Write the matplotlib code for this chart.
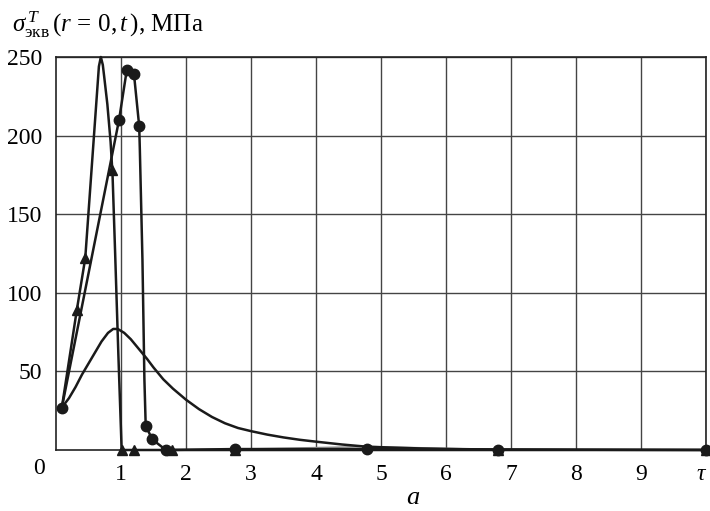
import matplotlib
matplotlib.use("Agg")
import matplotlib.pyplot as plt
import matplotlib.transforms as mtransforms

plt.rcParams['font.family'] = ['Liberation Serif', 'DejaVu Serif']
plt.rcParams['mathtext.fontset'] = 'custom'
plt.rcParams['mathtext.rm'] = 'Liberation Serif'
plt.rcParams['mathtext.it'] = 'Liberation Serif:italic'

# circle series (line and markers)
circ_line_x = [0.09, 0.97, 1.09, 1.20, 1.28, 1.29, 1.33, 1.36, 1.38, 1.48, 1.69, 2.76, 4.78, 6.80, 10.0]
circ_line_y = [27, 210, 242, 239, 206, 191, 121, 45, 15.5, 6.8, 0, 0.6, 0.6, 0.3, 0]
circ_mark_x = [0.09, 0.97, 1.09, 1.20, 1.28, 1.38, 1.48, 1.69, 2.76, 4.78, 6.80, 10.0]
circ_mark_y = [27, 210, 242, 239, 206, 15.5, 6.8, 0, 0.6, 0.6, 0.3, 0]

# triangle series (line and markers)
tri_line_x = [0.09, 0.32, 0.45, 0.66, 0.69, 0.72, 0.74, 0.79, 0.84, 0.87, 0.91, 0.96, 1.01, 1.20, 1.79, 2.76, 4.78, 6.80, 10.0]
tri_line_y = [27, 89, 122, 244, 250, 245, 238, 220, 196, 175, 125, 60, 0, 0, 0, 0, 0, 0, 0]
tri_mark_x = [0.32, 0.45, 0.86, 1.02, 1.20, 1.79, 2.76, 6.80, 10.0]
tri_mark_y = [89, 122, 178, 0, 0, 0, 0, 0, 0]

# smooth curve without markers
smooth_x = [0.09, 0.2, 0.3, 0.4, 0.5, 0.6, 0.7, 0.8, 0.88, 0.95, 1.05, 1.15, 1.22, 1.3, 1.4, 1.5,
            1.65, 1.8, 2.0, 2.2, 2.4, 2.6, 2.8, 3.0, 3.25, 3.5, 3.75, 4.0, 4.4, 4.78, 5.2, 5.6, 6.0, 6.5, 7.0, 8.0, 10.0]
smooth_y = [27, 33, 40, 48, 55, 62, 69, 74.5, 77, 77, 74.5, 70.5, 67, 63, 58, 52.5,
            45, 39, 32, 26, 21, 17, 14, 12, 9.8, 8, 6.5, 5.3, 3.5, 2.1, 1.5, 1.0, 0.7, 0.4, 0.25, 0.1, 0]

# faint gray line near the bottom
gray_x = [1.8, 2.8, 4.0, 4.8, 5.5, 6.5, 7.0]
gray_y = [0, 0.5, 1.5, 2.2, 1.5, 0.5, 0]

xticks = [1, 2, 3, 4, 5, 6, 7, 8, 9, 10]
xticklabels = ['1', '2', '3', '4', '5', '6', '7', '8', '9', r'$\tau$']
yticks = [50, 100, 150, 200, 250]
yticklabels = ['50', '100', '150', '200', '250']

fig = plt.figure(figsize=(7.10, 5.11), dpi=100)
ax = fig.add_axes([56/710, 61/511, 650/710, 393/511])
ax.set_xlim(0, 10)
ax.set_ylim(0, 250)

ax.set_xticks(xticks)
ax.set_xticklabels(xticklabels, fontsize=17)
ax.set_yticks(yticks)
ax.set_yticklabels(yticklabels, fontsize=17)
ax.tick_params(length=0, pad=10)
lab = ax.get_xticklabels()[-1]
lab.set_transform(lab.get_transform() + mtransforms.ScaledTranslation(-4/100, 0, fig.dpi_scale_trans))
ax.grid(True, color='#444444', lw=1.0)
for s in ax.spines.values():
    s.set_color('#222222')
    s.set_linewidth(1.2)

ax.plot(gray_x, gray_y, color='#999999', lw=1.2, zorder=2)
ax.plot(smooth_x, smooth_y, color='#1a1a1a', lw=1.8, zorder=3)
ax.plot(tri_line_x, tri_line_y, color='#1a1a1a', lw=1.8, zorder=3, clip_on=False)
ax.plot(circ_line_x, circ_line_y, color='#1a1a1a', lw=1.8, zorder=3, clip_on=False)
ax.plot(tri_mark_x, tri_mark_y, ls='none', marker='^', ms=7, color='#1a1a1a', zorder=4, clip_on=False)
ax.plot(circ_mark_x, circ_mark_y, ls='none', marker='o', ms=7.5, color='#1a1a1a', zorder=4, clip_on=False)

fig.text(45/710, 1 - 468/511, '0', fontsize=17, ha='right', va='center')
fig.text(413/710, 1 - 498/511, r'$a$', fontsize=19, ha='center', va='center')
fig.text(12/710, 1 - 32/511, r'$\sigma^{\,T}_{\mathrm{экв}}\,(r\,=\,0,t\,)$, МПа', fontsize=18, ha='left', va='baseline')

fig.savefig('out.png', dpi=100)
